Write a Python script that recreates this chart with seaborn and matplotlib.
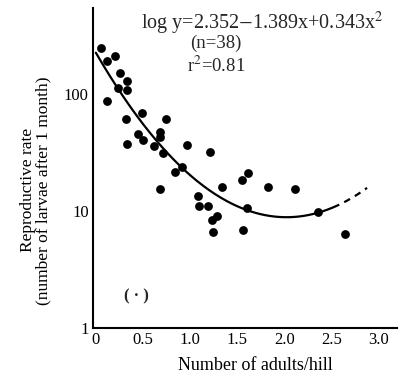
import numpy as np
import pandas as pd
import seaborn as sns
import matplotlib.pyplot as plt

# adults per hill vs larvae after 1 month
adults = [0.05, 0.12, 0.20, 0.26, 0.33, 0.23, 0.33, 0.12, 0.32, 0.49,
          0.74, 0.45, 0.50, 0.68, 0.68, 0.33, 0.62, 0.97, 0.71, 1.21,
          0.84, 0.91, 1.62, 1.55, 0.68, 1.83, 2.12, 1.08, 1.34, 1.10,
          1.19, 1.23, 1.29, 1.24, 1.56, 1.60, 2.36, 2.65]
larvae = [249, 191, 212, 152, 128, 112, 108, 87, 61, 68,
          61, 45, 40.5, 47.7, 42.7, 37, 36, 36.6, 31, 32,
          21.7, 23.9, 21, 18.5, 15.4, 15.9, 15.4, 13.5, 16.1, 11.1,
          11.1, 8.4, 9.05, 6.65, 6.84, 10.5, 9.75, 6.3]

# fitted curve: log y = a + b x + c x^2
coef_a, coef_b, coef_c = 2.352, -1.389, 0.343
solid_end = 2.52
dashed_end = 2.88

xticks = [0, 0.5, 1.0, 1.5, 2.0, 2.5, 3.0]
xtick_labels = ["0", "0.5", "1.0", "1.5", "2.0", "2.5", "3.0"]
yticks = [1, 10, 100]
ytick_labels = ["1", "10", "100"]

sns.set_style("white")
plt.rcParams['font.family'] = ['Liberation Serif', 'DejaVu Serif']
plt.rcParams['mathtext.fontset'] = 'stix'

fig = plt.figure(figsize=(4.02, 3.79), dpi=100)
ax = fig.add_axes([0.231, 0.135, 0.757, 0.844])

df = pd.DataFrame({'x': adults, 'y': larvae})
sns.scatterplot(data=df, x='x', y='y', ax=ax, color='black', s=40,
                edgecolor='black', linewidth=0, zorder=3)

xs = np.linspace(0, solid_end, 200)
ax.plot(xs, 10 ** (coef_a + coef_b * xs + coef_c * xs ** 2), color='black', lw=1.6)
xd = np.linspace(solid_end, dashed_end, 50)
ax.plot(xd, 10 ** (coef_a + coef_b * xd + coef_c * xd ** 2), color='black', lw=1.6,
        linestyle=(0, (3, 2.5)))

ax.set_yscale('log')
ax.set_xlim(-0.032, 3.2)
ax.set_ylim(1, 543)
ax.set_xticks(xticks)
ax.set_xticklabels(xtick_labels)
ax.set_yticks(yticks)
ax.set_yticklabels(ytick_labels)
ax.minorticks_off()
ax.tick_params(axis='both', direction='in', length=4, width=1.2, labelsize=12,
               colors='black', pad=3)

for s in ['top', 'right']:
    ax.spines[s].set_visible(False)
for s in ['left', 'bottom']:
    ax.spines[s].set_color('black')
    ax.spines[s].set_linewidth(1.5)

ax.set_xlabel('Number of adults/hill', fontsize=13, color='black')
ax.xaxis.set_label_coords(0.535, -0.09)
ax.set_ylabel('Reproductive rate\n(number of larvae after 1 month)', fontsize=12.5,
              color='black', linespacing=1.0)
ax.yaxis.set_label_coords(-0.135, 0.43)

ax.text(0.555, 0.995, r'log y=2.352$-$1.389x+0.343x$^2$', transform=ax.transAxes,
        ha='center', va='top', fontsize=14.5)
ax.text(0.405, 0.915, '(n=38)', transform=ax.transAxes, ha='center', va='top', fontsize=13.5)
ax.text(0.405, 0.85, r'r$^2$=0.81', transform=ax.transAxes, ha='center', va='top', fontsize=13.5)
ax.text(0.43, 1.85, '( · )', ha='center', va='center', fontsize=12, fontweight='bold')

fig.savefig('out.png', dpi=100)
